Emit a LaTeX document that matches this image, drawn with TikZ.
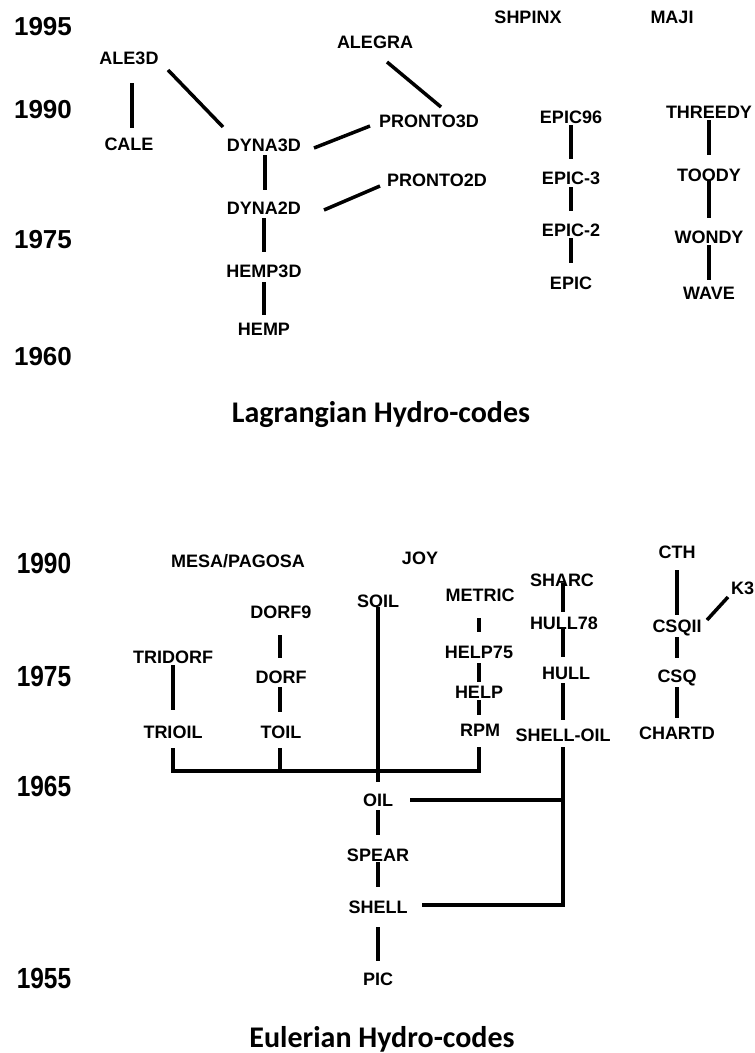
\documentclass[tikz,border=0pt]{standalone}
\usepackage{graphicx}
\usepackage{fontspec}
\setmainfont{Liberation Sans}
\newfontfamily\carl{Carlito}
\usetikzlibrary{calc}
\tikzset{
  lbl/.style={font=\fontsize{18}{20}\selectfont\bfseries, inner sep=0pt},
  yr/.style={font=\fontsize{26}{28}\selectfont\bfseries, inner sep=0pt},
  ttl/.style={font=\carl\fontsize{30}{32}\selectfont\bfseries, inner sep=0pt, anchor=base},
  ln/.style={line width=3.5pt, black}
}
\newcommand{\tallyr}[1]{\scalebox{0.94}[1.12]{#1}}
\begin{document}
\begin{tikzpicture}[x=1pt,y=-1pt]
\useasboundingbox (0,0) rectangle (755,1053);
% ---------- Lagrangian ----------
\node[yr] (y95) at (43,27) {1995};
\node[yr] (y90a) at (43,110) {1990};
\node[yr] (y75a) at (43,240) {1975};
\node[yr] (y60) at (43,357) {1960};

\node[lbl] (ale3d) at (129,58) {ALE3D};
\node[lbl] (cale) at (129,144) {CALE};
\node[lbl] (dyna3d) at (264,145) {DYNA3D};
\node[lbl] (dyna2d) at (264,208) {DYNA2D};
\node[lbl] (hemp3d) at (264,271) {HEMP3D};
\node[lbl] (hemp) at (264,329) {HEMP};
\node[lbl] (alegra) at (375,42) {ALEGRA};
\node[lbl] (pronto3d) at (429,121) {PRONTO3D};
\node[lbl] (pronto2d) at (437,180) {PRONTO2D};
\node[lbl] (shpinx) at (528,17) {SHPINX};
\node[lbl] (maji) at (672,17) {MAJI};
\node[lbl] (epic96) at (571,117) {EPIC96};
\node[lbl] (epic3) at (571,178) {EPIC-3};
\node[lbl] (epic2) at (571,230) {EPIC-2};
\node[lbl] (epic) at (571,283) {EPIC};
\node[lbl] (threedy) at (709,112) {THREEDY};
\node[lbl] (toody) at (709,175) {TOODY};
\node[lbl] (wondy) at (709,237) {WONDY};
\node[lbl] (wave) at (709,293) {WAVE};

\draw[ln] ($(ale3d)+(3,25)$) -- ($(cale)+(3,-16)$);
\draw[ln] ($(ale3d)+(39,12)$) -- ($(dyna3d)+(-41,-18)$);
\draw[ln] ($(dyna3d)+(50,3)$) -- ($(pronto3d)+(-59,5)$);
\draw[ln] ($(dyna2d)+(60,2)$) -- ($(pronto2d)+(-57,6)$);
\draw[ln] ($(alegra)+(12,20)$) -- ($(pronto3d)+(12,-14)$);
\draw[ln] ($(dyna3d)+(1,10)$) -- ($(dyna2d)+(1,-18)$);
\draw[ln] ($(dyna2d)+(0,10)$) -- ($(hemp3d)+(0,-19)$);
\draw[ln] ($(hemp3d)+(0,11)$) -- ($(hemp)+(0,-14)$);
\draw[ln] ($(epic96)+(0,8)$) -- ($(epic3)+(0,-19)$);
\draw[ln] ($(epic3)+(0,9)$) -- ($(epic2)+(0,-19)$);
\draw[ln] ($(epic2)+(0,8)$) -- ($(epic)+(0,-20)$);
\draw[ln] ($(threedy)+(0,8)$) -- ($(toody)+(0,-20)$);
\draw[ln] ($(toody)+(0,5)$) -- ($(wondy)+(0,-19)$);
\draw[ln] ($(wondy)+(0,8)$) -- ($(wave)+(0,-13)$);

\node[ttl] (lagr) at (381,422) {Lagrangian Hydro-codes};

% ---------- Eulerian ----------
\node[yr] (y90b) at (44,563) {\tallyr{1990}};
\node[yr] (y75b) at (44,676) {\tallyr{1975}};
\node[yr] (y65) at (44,786) {\tallyr{1965}};
\node[yr] (y55) at (44,978) {\tallyr{1955}};

\node[lbl] (mesa) at (238,561) {MESA/PAGOSA};
\node[lbl] (joy) at (420,558) {JOY};
\node[lbl] (soil) at (378,601) {SOIL};
\node[lbl] (dorf9) at (281,612) {DORF9};
\node[lbl] (tridorf) at (173,657) {TRIDORF};
\node[lbl] (dorf) at (281,677) {DORF};
\node[lbl] (trioil) at (173,732) {TRIOIL};
\node[lbl] (toil) at (281,732) {TOIL};
\node[lbl] (metric) at (480,595) {METRIC};
\node[lbl] (help75) at (479,652) {HELP75};
\node[lbl] (help) at (479,692) {HELP};
\node[lbl] (rpm) at (480,730) {RPM};
\node[lbl] (sharc) at (562,580) {SHARC};
\node[lbl] (hull78) at (564,623) {HULL78};
\node[lbl] (hull) at (566,673) {HULL};
\node[lbl] (shelloil) at (563,735) {SHELL-OIL};
\node[lbl] (cth) at (677,552) {CTH};
\node[lbl,anchor=west] (k3) at (731,588) {K3};
\node[lbl] (csqii) at (677,628) {CSQII};
\node[lbl] (csq) at (677,678) {CSQ};
\node[lbl] (chartd) at (677,733) {CHARTD};
\node[lbl] (oil) at (378,800) {OIL};
\node[lbl] (spear) at (378,855) {SPEAR};
\node[lbl] (shell) at (378,907) {SHELL};
\node[lbl] (pic) at (378,979) {PIC};

\draw[ln] ($(tridorf)+(0,8)$) -- ($(trioil)+(0,-22)$);
\draw[ln] ($(dorf9)+(-1,23)$) -- ($(dorf)+(-1,-19)$);
\draw[ln] ($(dorf)+(-1,10)$) -- ($(toil)+(-1,-20)$);
\draw[ln] ($(trioil)+(0,16)$) |- ($(rpm)+(-1,41)$) -- ($(rpm)+(-1,17)$);
\draw[ln] ($(toil)+(-1,16)$) -- ($(toil)+(-1,39)$);
\draw[ln] ($(soil)+(0,6)$) -- ($(oil)+(0,-18)$);
\draw[ln] ($(oil)+(0,10)$) -- ($(spear)+(0,-20)$);
\draw[ln] ($(spear)+(0,7)$) -- ($(shell)+(0,-20)$);
\draw[ln] ($(shell)+(0,20)$) -- ($(pic)+(0,-18)$);
\draw[ln] ($(metric)+(-1,23)$) -- ($(help75)+(0,-20)$);
\draw[ln] ($(help75)+(0,11)$) -- ($(help)+(0,-10)$);
\draw[ln] ($(help)+(0,8)$) -- ($(rpm)+(-1,-15)$);
\draw[ln] ($(sharc)+(1,3)$) -- ($(hull78)+(-1,-11)$);
\draw[ln] ($(hull78)+(-1,5)$) -- ($(hull)+(-3,-16)$);
\draw[ln] ($(hull)+(-3,10)$) -- ($(shelloil)+(0,-15)$);
\draw[ln] ($(shelloil)+(0,12)$) |- ($(shell)+(44,-2)$);
\draw[ln] ($(oil)+(32,0)$) -- (oil -| shelloil);
\draw[ln] ($(cth)+(0,18)$) -- ($(csqii)+(0,-13)$);
\draw[ln] ($(csqii)+(0,9)$) -- ($(csq)+(0,-20)$);
\draw[ln] ($(csq)+(0,9)$) -- ($(chartd)+(0,-15)$);
\draw[ln] ($(csqii)+(30,-8)$) -- ($(k3.west)+(-3,9)$);

\node[ttl] (euler) at (382,1047) {Eulerian Hydro-codes};
\end{tikzpicture}
\end{document}
